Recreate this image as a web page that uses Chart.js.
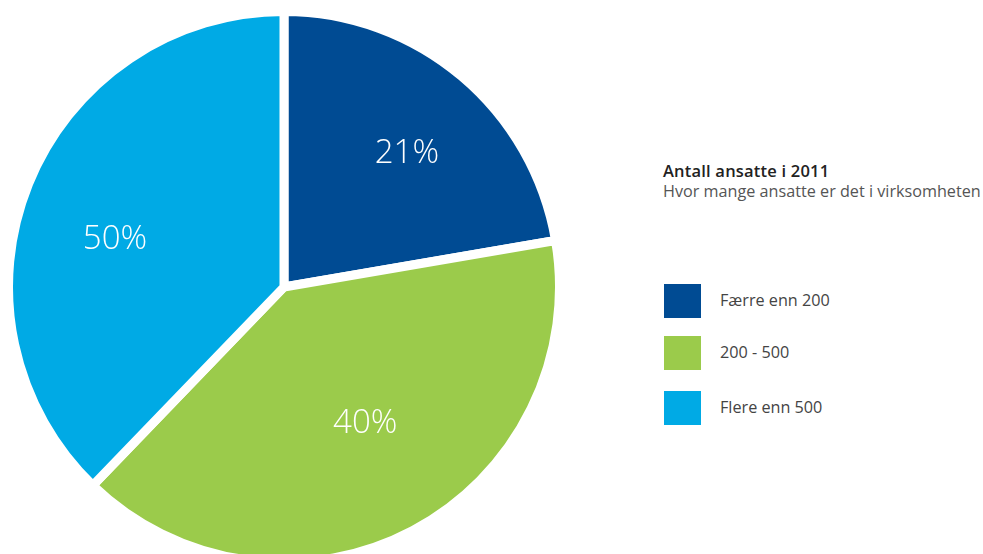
<!DOCTYPE html>
<html>
<head>
<meta charset="utf-8">
<script src="https://cdn.jsdelivr.net/npm/chart.js@4.4.0/dist/chart.umd.min.js"></script>
<style>
	body { margin:0; width:983px; height:554px; overflow:hidden; background:#fff; font-family:'Open Sans', sans-serif; position:relative; }
	#pieBox { position:absolute; left:4px; top:7px; width:560px; height:560px; }
	#sideBox { position:absolute; left:663px; top:160px; color:#333; }
	.ttl { font-size:16.5px; font-weight:600; color:#222; line-height:21px; letter-spacing:0.2px; }
	.sub { font-size:16.2px; color:#555; line-height:21px; white-space:nowrap; }
	.row { position:absolute; left:1px; width:37px; height:34px; }
	.lbl { position:absolute; left:57px; font-size:16.2px; color:#444; white-space:nowrap; line-height:20px; }
</style>
</head>
<body>
<div id="pieBox"><canvas id="myChart"></canvas></div>
<div id="sideBox">
	<div class="ttl" id="ttl"></div>
	<div class="sub" id="sub"></div>
	<div id="legend"></div>
</div>
<script>
//차트 데이터
const chartTitle = 'Antall ansatte i 2011';
const chartSub = 'Hvor mange ansatte er det i virksomheten';
const categories = ['Færre enn 200', '200 - 500', 'Flere enn 500'];
//슬라이스 크기 (그림의 각도에서 읽은 값)
const shares = [22.3, 39.9, 37.8];
//슬라이스 안의 글자
const shareLabels = ['21%', '40%', '50%'];
const colors = ['#004b93', '#9bcb4b', '#00aae5'];

document.getElementById('ttl').textContent = chartTitle;
document.getElementById('sub').textContent = chartSub;

//범례 그리기
const legendTop = [124, 176, 231];
categories.forEach(function(name, i) {
	let box = document.createElement('div');
	box.className = 'row';
	box.style.top = legendTop[i] + 'px';
	box.style.background = colors[i];
	document.getElementById('legend').appendChild(box);
	let txt = document.createElement('div');
	txt.className = 'lbl';
	txt.style.top = (legendTop[i] + 6) + 'px';
	txt.textContent = name;
	document.getElementById('legend').appendChild(txt);
});

//슬라이스 안에 퍼센트 쓰기
const sliceText = {
	id: 'sliceText',
	afterDatasetsDraw(chart, args, opts) {
		const ctx = chart.ctx;
		const meta = chart.getDatasetMeta(0);
		ctx.save();
		ctx.fillStyle = '#fff';
		ctx.font = '300 33px "Open Sans", sans-serif';
		ctx.textAlign = 'center';
		ctx.textBaseline = 'middle';
		meta.data.forEach(function(arc, i) {
			const mid = (arc.startAngle + arc.endAngle) / 2;
			const r = arc.outerRadius * 0.63;
			const n = opts.nudge[i];
			ctx.fillText(shareLabels[i], arc.x + Math.cos(mid) * r + n[0], arc.y + Math.sin(mid) * r + n[1]);
		});
		ctx.restore();
	}
};

new Chart(document.getElementById('myChart'), {
	type: 'pie',
	data: {
		labels: categories,
		datasets: [{
			data: shares,
			backgroundColor: colors,
			borderColor: '#fff',
			borderWidth: 9,
			hoverOffset: 0,
			offset: 0
		}]
	},
	options: {
		responsive: true,
		maintainAspectRatio: false,
		animation: false,
		events: [],
		layout: { padding: 0 },
		plugins: {
			legend: { display: false },
			tooltip: { enabled: false },
			sliceText: { nudge: [[11, -1], [0, -17], [-8, 17]] }
		}
	},
	plugins: [sliceText]
});
</script>
</body>
</html>
